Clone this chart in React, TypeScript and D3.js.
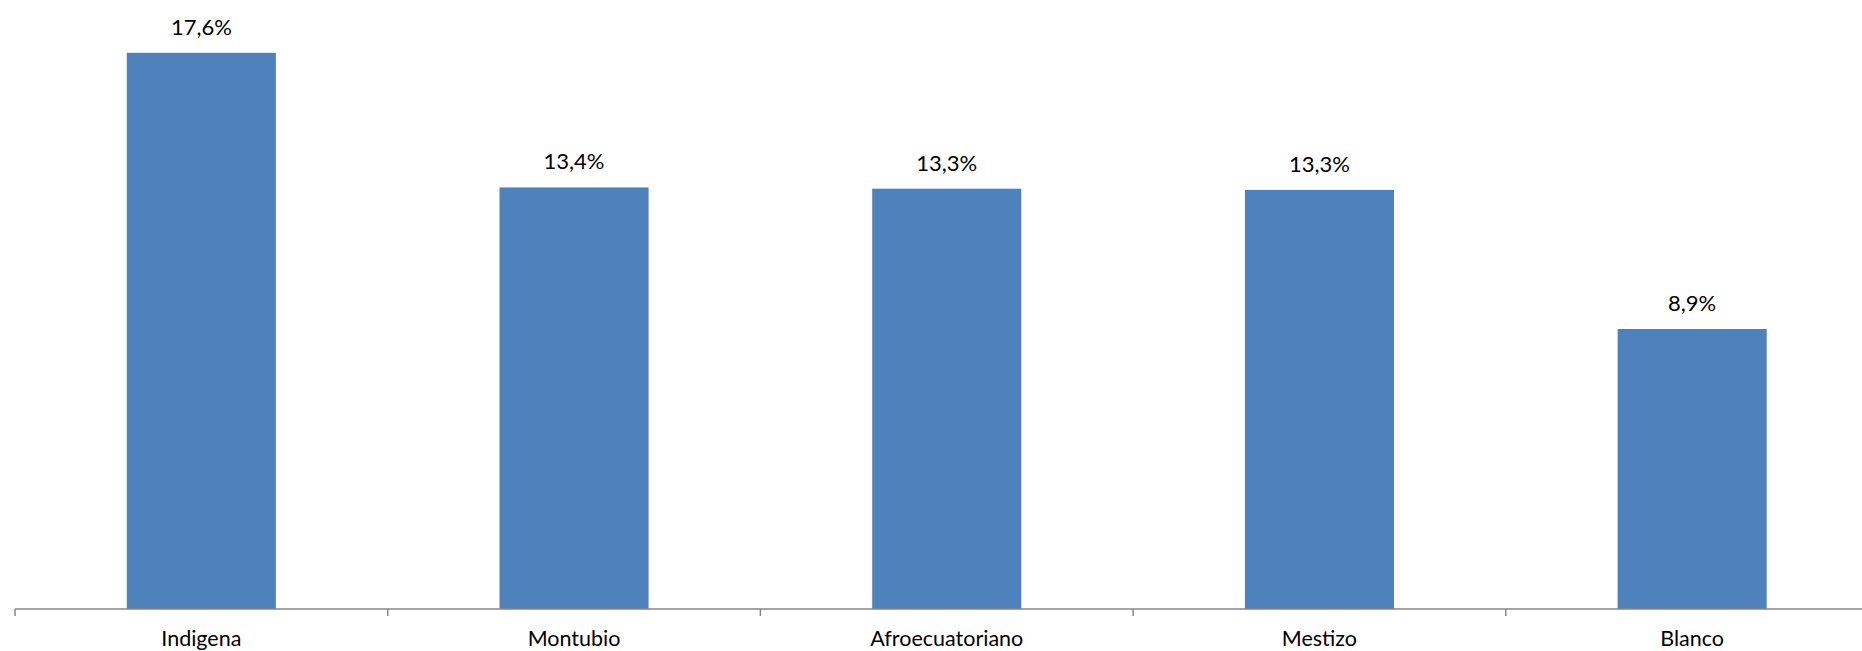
import React from "react";
import * as d3 from "d3";

const categories = ["Indigena", "Montubio", "Afroecuatoriano", "Mestizo", "Blanco"];
const values = [17.68, 13.4, 13.36, 13.32, 8.9];
const valueLabels = ["17,6%", "13,4%", "13,3%", "13,3%", "8,9%"];

const W = 1862;
const H = 651;
const baseY = 609;
const x0 = 15;
const bandW = 372.7;

export default function App() {
  const x = d3
    .scaleBand<string>()
    .domain(categories)
    .range([x0, x0 + bandW * categories.length])
    .paddingInner(0.6)
    .paddingOuter(0.3);
  const xb = d3.scaleBand<string>().domain(categories).range([x0, x0 + bandW * categories.length]);
  const y = d3.scaleLinear().domain([0, 18]).range([baseY, baseY - 18 * 31.46]);
  const font = "Lato, 'Noto Sans', sans-serif";
  const tickXs = categories.map((c) => xb(c) as number).concat([x0 + bandW * categories.length]);

  return (
    <svg
      width={W}
      height={H}
      style={{ position: "absolute", left: 0, top: 0, background: "#fff" }}
    >
      {categories.map((c, i) => (
        <rect
          key={c}
          x={x(c)}
          y={y(values[i])}
          width={x.bandwidth()}
          height={baseY - y(values[i])}
          fill="#4F81BD"
        />
      ))}
      {categories.map((c, i) => (
        <text
          key={c + "l"}
          x={(x(c) as number) + x.bandwidth() / 2}
          y={y(values[i]) - 18}
          textAnchor="middle"
          fontFamily={font}
          fontSize={22}
          fill="#000"
        >
          {valueLabels[i]}
        </text>
      ))}
      <line x1={x0} x2={W} y1={baseY} y2={baseY} stroke="#868686" strokeWidth={1.5} />
      {tickXs.map((t, i) => (
        <line key={i} x1={t} x2={t} y1={baseY} y2={baseY + 7} stroke="#868686" strokeWidth={1.5} />
      ))}
      {categories.map((c) => (
        <text
          key={c + "c"}
          x={(xb(c) as number) + xb.bandwidth() / 2}
          y={646}
          textAnchor="middle"
          fontFamily={font}
          fontSize={21.5}
          fill="#000"
        >
          {c}
        </text>
      ))}
    </svg>
  );
}
